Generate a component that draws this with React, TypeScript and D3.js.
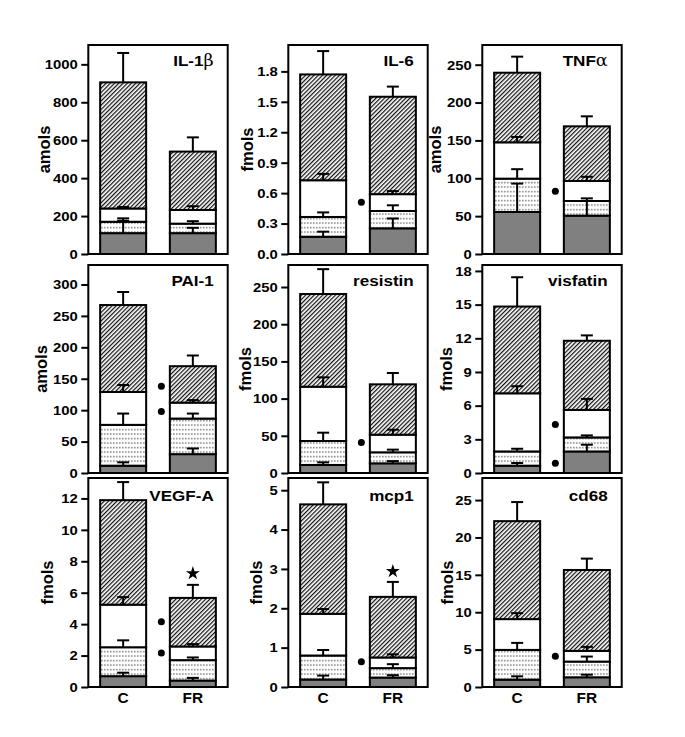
import React, { useEffect, useRef } from 'react';
import * as d3 from 'd3';

// groups on the x axis
const groups = ['C', 'FR'];

// panel titles (greek suffix drawn in a serif face)
const titles = ['IL-1', 'IL-6', 'TNF', 'PAI-1', 'resistin', 'visfatin', 'VEGF-A', 'mcp1', 'cd68'];
const greek = ['β', '', 'α', '', '', '', '', '', ''];
const units = ['amols', 'fmols', 'amols', 'amols', 'fmols', 'fmols', 'fmols', 'fmols', 'fmols'];

// axis tops and tick values
const yMax = [1102, 2.06, 276, 331, 279.6, 18.53, 13.3, 5.31, 27.95];
const yTicks = [
  [0, 200, 400, 600, 800, 1000],
  [0, 0.3, 0.6, 0.9, 1.2, 1.5, 1.8],
  [0, 50, 100, 150, 200, 250],
  [0, 50, 100, 150, 200, 250, 300],
  [0, 50, 100, 150, 200, 250],
  [0, 3, 6, 9, 12, 15, 18],
  [0, 2, 4, 6, 8, 10, 12],
  [0, 1, 2, 3, 4, 5],
  [0, 5, 10, 15, 20, 25],
];

// stacked segments, bottom to top: gray, dotted, white, hatched
const segC = [
  [110, 60, 70, 665],
  [0.17, 0.195, 0.362, 1.043],
  [55.5, 44, 48, 91.9],
  [11.6, 65, 52.3, 138.4],
  [10.8, 32.2, 73, 124.6],
  [0.65, 1.27, 5.18, 7.73],
  [0.69, 1.84, 2.71, 6.65],
  [0.19, 0.61, 1.06, 2.78],
  [0.98, 3.98, 4.12, 13.1],
];
const segFR = [
  [110, 50, 72, 308],
  [0.253, 0.171, 0.166, 0.96],
  [50.6, 19.4, 26.4, 72.2],
  [30, 56.6, 25.4, 58],
  [13, 14.8, 23.7, 67.7],
  [1.92, 1.25, 2.45, 6.16],
  [0.41, 1.3, 0.87, 3.09],
  [0.24, 0.24, 0.27, 1.54],
  [1.3, 2.1, 1.43, 10.82],
];
// error (SEM) above each segment top
const errC = [
  [65, 18, 8, 155],
  [0.05, 0.045, 0.063, 0.23],
  [37.5, 12.5, 7, 21.2],
  [5.4, 18, 11.1, 20.7],
  [3.5, 11.2, 12.6, 33.4],
  [0.24, 0.24, 0.63, 2.61],
  [0.22, 0.44, 0.48, 1.15],
  [0.1, 0.14, 0.12, 0.56],
  [0.45, 0.94, 0.8, 2.55],
];
const errFR = [
  [28, 13, 20, 75],
  [0.097, 0.056, 0.03, 0.1],
  [19.4, 3.5, 5.6, 13.2],
  [9, 8, 4, 17],
  [3, 3.6, 6.7, 15.2],
  [0.6, 0.18, 0.98, 0.48],
  [0.17, 0.17, 0.15, 0.83],
  [0.06, 0.1, 0.08, 0.38],
  [0.35, 0.67, 0.54, 1.52],
];

// significance marks
const dots = [[], [0.51], [83], [138, 98], [41], [4.32, 0.86], [4.16, 2.17], [0.64], [4.1]];
const stars = [null, null, null, null, null, null, 7.23, 2.94, null];

const App: React.FC = () => {
  const svgRef = useRef<SVGSVGElement>(null);

  const width = 685;
  const height = 737;
  const colLeft = [88.3, 288.3, 482.3];
  const rowTop = [45, 265, 478];
  const rowH = [209, 208, 209];
  const plotW = 139.4;
  const labelOff = [43, 40, 46, 46, 42, 35, 40, 31, 34];
  const font = '"Liberation Sans", Arial, sans-serif';
  const sx = 1.1; // horizontal text stretch seen in the picture

  useEffect(() => {
    if (!svgRef.current) return;
    const svg = d3.select(svgRef.current);
    svg.selectAll('*').remove();

    const defs = svg.append('defs');
    const hatch = defs.append('pattern')
      .attr('id', 'hatch')
      .attr('patternUnits', 'userSpaceOnUse')
      .attr('width', 3)
      .attr('height', 3)
      .attr('patternTransform', 'rotate(45)');
    hatch.append('rect').attr('width', 3).attr('height', 3).attr('fill', '#fff');
    hatch.append('line')
      .attr('x1', 0.6).attr('y1', 0).attr('x2', 0.6).attr('y2', 3)
      .attr('stroke', '#111').attr('stroke-width', 1.3);

    const dotted = defs.append('pattern')
      .attr('id', 'dots')
      .attr('patternUnits', 'userSpaceOnUse')
      .attr('width', 3)
      .attr('height', 4.5);
    dotted.append('rect').attr('width', 3).attr('height', 4.5).attr('fill', '#fff');
    dotted.append('rect').attr('x', 1).attr('y', 2).attr('width', 1.2).attr('height', 1.2).attr('fill', '#333');

    const fills = ['#808080', 'url(#dots)', '#fff', 'url(#hatch)'];
    const keys = ['s0', 's1', 's2', 's3'];

    titles.forEach((title, i) => {
      const col = i % 3;
      const row = Math.floor(i / 3);
      const h = rowH[row];
      const g = svg.append('g').attr('transform', `translate(${colLeft[col]},${rowTop[row]})`);

      const y = d3.scaleLinear().domain([0, yMax[i]]).range([h, 0]);
      const x = d3.scaleBand<string>().domain(groups).range([0, plotW]).paddingInner(0.34).paddingOuter(0.17);
      const bw = x.bandwidth();

      const rows = [segC[i], segFR[i]].map((s, gi) => {
        const r: any = { group: groups[gi] };
        keys.forEach((k, ki) => (r[k] = s[ki]));
        return r;
      });
      const errs = [errC[i], errFR[i]];
      const series = d3.stack<any>().keys(keys)(rows);

      // bars
      series.forEach((s, ki) => {
        g.selectAll(null)
          .data(s)
          .enter()
          .append('rect')
          .attr('x', d => x(d.data.group)!)
          .attr('y', d => y(d[1]))
          .attr('width', bw)
          .attr('height', d => y(d[0]) - y(d[1]))
          .attr('fill', fills[ki])
          .attr('stroke', '#000')
          .attr('stroke-width', 2);
      });

      // error bars
      series.forEach((s, ki) => {
        s.forEach((d, gi) => {
          const cx = x(d.data.group)! + bw / 2;
          const top = d[1] + errs[gi][ki];
          g.append('line')
            .attr('x1', cx).attr('x2', cx)
            .attr('y1', y(d[1])).attr('y2', y(top))
            .attr('stroke', '#000').attr('stroke-width', 2);
          g.append('line')
            .attr('x1', cx - 6).attr('x2', cx + 6)
            .attr('y1', y(top)).attr('y2', y(top))
            .attr('stroke', '#000').attr('stroke-width', 2);
        });
      });

      // frame
      g.append('rect')
        .attr('width', plotW).attr('height', h)
        .attr('fill', 'none').attr('stroke', '#000').attr('stroke-width', 2);

      // y axis
      const fmt = i === 1 ? d3.format('.1f') : d3.format('d');
      const axis = g.append('g').call(
        d3.axisLeft(y).tickValues(yTicks[i]).tickSize(7).tickPadding(3.5).tickFormat(d => fmt(d as number))
      );
      axis.select('.domain').remove();
      axis.selectAll('line').attr('stroke', '#000').attr('stroke-width', 2);
      axis.selectAll('text')
        .attr('fill', '#000')
        .attr('font-family', font)
        .attr('font-weight', 'bold')
        .attr('font-size', 13.5)
        .attr('x', -10.5 / sx)
        .attr('transform', `scale(${sx},1)`);

      g.append('text')
        .attr('transform', `translate(${-labelOff[i]},${h / 2}) rotate(-90)`)
        .attr('text-anchor', 'middle')
        .attr('dominant-baseline', 'middle')
        .attr('font-family', font)
        .attr('font-weight', 'bold')
        .attr('font-size', 16.5)
        .text(units[i]);

      // title
      const t = g.append('text')
        .attr('transform', `translate(${plotW - 14},${row === 2 ? 22.5 : 21}) scale(${sx},1)`)
        .attr('text-anchor', 'end')
        .attr('font-family', font)
        .attr('font-weight', 'bold')
        .attr('font-size', 15.5);
      t.append('tspan').text(title);
      if (greek[i]) {
        t.append('tspan')
          .attr('font-family', '"DejaVu Serif", "Liberation Serif", serif')
          .attr('font-weight', 'normal')
          .attr('font-size', 16)
          .text(greek[i]);
      }

      // significance dots
      g.selectAll(null)
        .data(dots[i])
        .enter()
        .append('circle')
        .attr('cx', x('FR')! - 8.5)
        .attr('cy', d => y(d))
        .attr('r', 3.5)
        .attr('fill', '#000');

      if (stars[i] !== null) {
        g.append('path')
          .attr('d', d3.symbol(d3.symbolStar, 60)()!)
          .attr('transform', `translate(${x('FR')! + bw / 2},${y(stars[i] as number)})`)
          .attr('fill', '#000');
      }

      // x labels on the bottom row
      if (row === 2) {
        g.selectAll(null)
          .data(groups)
          .enter()
          .append('text')
          .attr('transform', d => `translate(${x(d)! + bw / 2},${h + 15.5}) scale(${sx},1)`)
          .attr('text-anchor', 'middle')
          .attr('font-family', font)
          .attr('font-weight', 'bold')
          .attr('font-size', 14)
          .text(d => d);
      }
    });
  }, []);

  return (
    <div style={{ position: 'absolute', left: 0, top: 0 }}>
      <svg ref={svgRef} width={width} height={height} style={{ display: 'block', background: '#fff' }} />
    </div>
  );
};

export default App;
